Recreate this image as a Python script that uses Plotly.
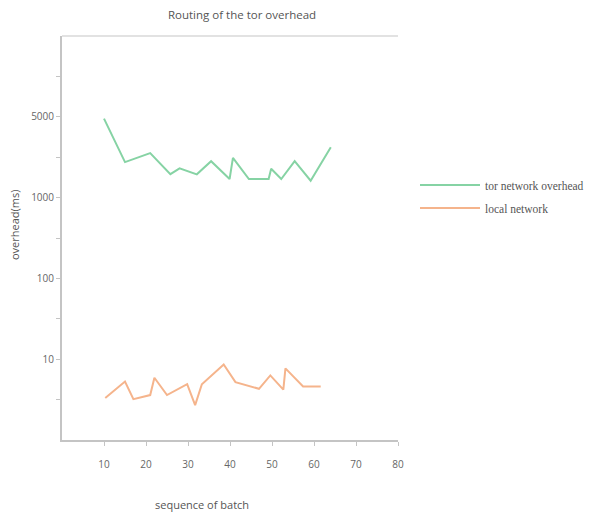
import plotly.graph_objects as go

# ---- data ----
tor_x = [10, 15, 21, 25.8, 28, 32.1, 35.5, 39.9, 40.7, 44.5, 49.2, 49.8, 52.2, 55.4, 59.2, 64]
tor_y = [9500, 2750, 3550, 1950, 2300, 1940, 2820, 1700, 3100, 1700, 1700, 2280, 1700, 2820, 1620, 4200]

local_x = [10.3, 15, 17, 21, 22, 25, 29.8, 31.7, 33.3, 38.5, 41.3, 46.9, 49.6, 52.7, 53.2, 57.4, 61.6]
local_y = [3.3, 5.3, 3.2, 3.6, 5.9, 3.6, 4.9, 2.7, 4.9, 8.6, 5.2, 4.3, 6.3, 4.2, 7.7, 4.6, 4.6]

x_ticks = [10, 20, 30, 40, 50, 60, 70, 80]
y_tickvals = [10**0.5, 10, 10**1.5, 100, 10**2.5, 1000, 10**3.5, 10000, 10**4.5]
y_ticktext = ["", "10", "", "100", "", "1000", "", "5000", ""]

series_names = ["tor network overhead", "local network"]
title_text = "Routing of the tor overhead"
x_title = "sequence of batch"
y_title = "overhead(ms)"

fig = go.Figure()
fig.add_trace(go.Scatter(x=tor_x, y=tor_y, mode="lines", name=series_names[0], legendgroup="a",
                         line=dict(color="#86d3a4", width=2)))
fig.add_trace(go.Scatter(x=local_x, y=local_y, mode="lines", name=series_names[1], legendgroup="b",
                         line=dict(color="#f5b48c", width=2)))

axis_color = "#c4c4c4"
sans = "Open Sans, Liberation Sans, sans-serif"
tick_font = dict(family=sans, size=10, color="#666666")

fig.update_layout(
    width=592, height=513,
    margin=dict(l=62, r=194, t=36, b=73),
    paper_bgcolor="white", plot_bgcolor="white",
    title=dict(text=title_text, x=242 / 592, xanchor="center", y=1 - 15 / 513, yanchor="middle",
               font=dict(family=sans, size=11.5, color="#555555")),
    showlegend=True,
    legend=dict(xref="container", yref="container", x=415 / 592, y=1 - 170.5 / 513,
                xanchor="left", yanchor="top",
                font=dict(family="Liberation Serif, serif", size=11.5, color="#555555"),
                bgcolor="rgba(0,0,0,0)", tracegroupgap=4, itemwidth=60),
    xaxis=dict(range=[0, 80], tickvals=x_ticks, showgrid=False, zeroline=False,
               showline=True, linecolor=axis_color, linewidth=2,
               ticks="outside", ticklen=4, tickcolor=axis_color,
               tickfont=tick_font, ticklabelstandoff=10),
    yaxis=dict(type="log", range=[0, 5], tickvals=y_tickvals, ticktext=y_ticktext,
               showgrid=False, zeroline=False, showline=True, linecolor=axis_color, linewidth=2,
               ticks="outside", ticklen=4, tickcolor=axis_color, tickfont=tick_font),
    shapes=[dict(type="line", xref="paper", yref="paper", x0=0, x1=1, y0=1, y1=1,
                 line=dict(color="#e2e2e2", width=2))],
    annotations=[
        dict(text=x_title, xref="paper", yref="paper", x=(202 - 62) / 336, y=-(505 - 440) / 404,
             xanchor="center", yanchor="middle", showarrow=False,
             font=dict(family=sans, size=11, color="#555555")),
        dict(text=y_title, xref="paper", yref="paper", x=-(62 - 14) / 336, y=(440 - 225) / 404,
             xanchor="center", yanchor="middle", showarrow=False, textangle=-90,
             font=dict(family=sans, size=11, color="#555555")),
    ],
)

fig.write_html("out.html", config={"displayModeBar": False},
               post_script="document.body.style.margin='0px';")
